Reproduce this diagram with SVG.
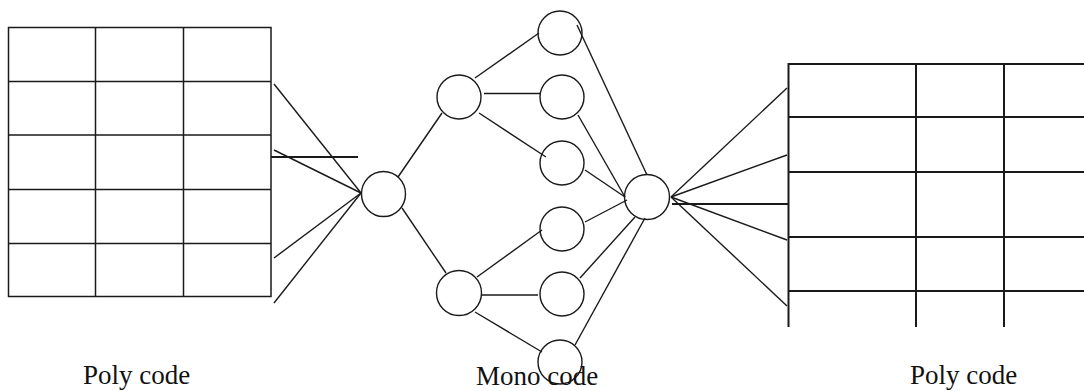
<svg xmlns="http://www.w3.org/2000/svg" width="1084" height="391" viewBox="0 0 1084 391">
<style>
.g{fill:none;stroke:#1a1a1a;stroke-width:1.5}
.g2{fill:none;stroke:#1a1a1a;stroke-width:2}
.n{fill:#fff;stroke:#1a1a1a;stroke-width:1.4}
.c{fill:none;stroke:#1a1a1a;stroke-width:1.4}
.t{font-family:"Liberation Serif","Times New Roman",serif;font-size:27px;fill:#111}
</style>
<rect width="1084" height="391" fill="#fff"/>
<g id="grid-left" class="g">
<rect x="8.5" y="27.5" width="262.5" height="269"/>
<line x1="95.5" y1="27.5" x2="95.5" y2="296.5"/>
<line x1="183.5" y1="27.5" x2="183.5" y2="296.5"/>
<line x1="8.5" y1="81.5" x2="271" y2="81.5"/>
<line x1="8.5" y1="135" x2="271" y2="135"/>
<line x1="8.5" y1="189.5" x2="271" y2="189.5"/>
<line x1="8.5" y1="243.5" x2="271" y2="243.5"/>
</g>
<g id="grid-right" class="g2">
<line x1="788.5" y1="64" x2="1084" y2="64"/>
<line x1="788.5" y1="117" x2="1084" y2="117"/>
<line x1="788.5" y1="172" x2="1084" y2="172"/>
<line x1="788.5" y1="237" x2="1084" y2="237"/>
<line x1="788.5" y1="291" x2="1084" y2="291"/>
<line x1="788.5" y1="63" x2="788.5" y2="327"/>
<line x1="916" y1="63" x2="916" y2="327"/>
<line x1="1004" y1="63" x2="1004" y2="327"/>
</g>
<g id="connectors" class="c">
<line x1="271" y1="157" x2="358" y2="157" stroke-width="2"/>
<line x1="274" y1="84" x2="361" y2="193"/>
<line x1="274" y1="150" x2="361" y2="193"/>
<line x1="274" y1="258" x2="361" y2="193"/>
<line x1="274" y1="303" x2="361" y2="193"/>
<line x1="398" y1="177" x2="442" y2="113"/>
<line x1="402" y1="208" x2="446" y2="273"/>
<line x1="475" y1="78" x2="539" y2="33"/>
<line x1="484" y1="93.5" x2="540" y2="93.5"/>
<line x1="479" y1="113" x2="546" y2="157"/>
<line x1="477" y1="277" x2="542" y2="230"/>
<line x1="482" y1="295" x2="538" y2="295"/>
<line x1="475" y1="312" x2="542" y2="352"/>
<line x1="577" y1="25" x2="647" y2="175"/>
<line x1="578" y1="115" x2="625" y2="197"/>
<line x1="585" y1="170" x2="625" y2="197"/>
<line x1="585" y1="222" x2="627" y2="200"/>
<line x1="580" y1="278" x2="635" y2="217"/>
<line x1="575" y1="345" x2="645" y2="218"/>
<line x1="671" y1="197" x2="787" y2="88"/>
<line x1="671" y1="197" x2="787" y2="155"/>
<line x1="672" y1="204" x2="788" y2="204" stroke-width="2"/>
<line x1="671" y1="197" x2="787" y2="240"/>
<line x1="671" y1="197" x2="787" y2="306"/>
</g>
<g id="node-in"><ellipse class="n" cx="383.5" cy="194" rx="22" ry="22.5" fill="none" style="fill:none"/></g>
<g id="node-a"><circle class="n" cx="459" cy="97" r="22" style="fill:none"/></g>
<g id="node-b"><circle class="n" cx="459" cy="293" r="22.5" style="fill:none"/></g>
<g id="node-1"><circle class="n" cx="560" cy="33" r="22" style="fill:none"/></g>
<g id="node-2"><circle class="n" cx="562" cy="97" r="22" style="fill:none"/></g>
<g id="node-3"><circle class="n" cx="562" cy="163" r="22" style="fill:none"/></g>
<g id="node-4"><circle class="n" cx="562" cy="229" r="22" style="fill:none"/></g>
<g id="node-5"><circle class="n" cx="562" cy="294" r="22" style="fill:none"/></g>
<g id="node-6"><circle class="n" cx="560" cy="362" r="22" style="fill:none"/></g>
<g id="node-out"><circle class="n" cx="647" cy="197" r="22.5" style="fill:none"/></g>
<g id="labels">
<text class="t" x="83" y="383.5">Poly code</text>
<text class="t" x="476" y="384.5">Mono code</text>
<text class="t" x="910" y="383.5">Poly code</text>
</g>
</svg>
